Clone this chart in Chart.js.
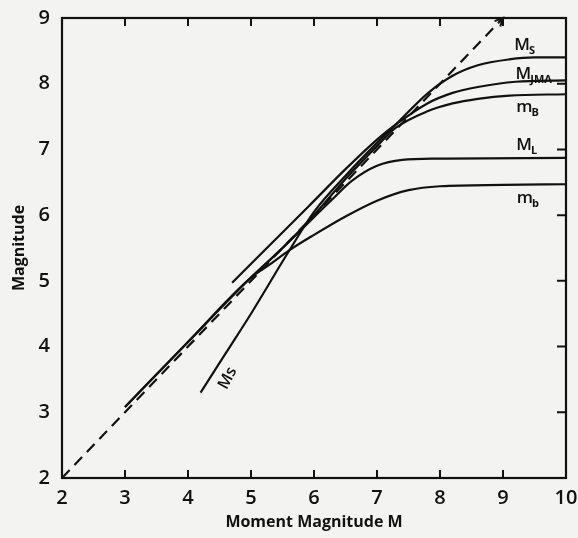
<!DOCTYPE html>
<html>
<head>
<meta charset="utf-8">
<script src="https://cdn.jsdelivr.net/npm/chart.js@4"></script>
<style>
  html, body { margin: 0; padding: 0; background: #f3f3f1; }
  #wrap { width: 578px; height: 538px; }
</style>
</head>
<body>
<div id="wrap"><canvas id="magChart" width="578" height="538"></canvas></div>
<script>
// --- ค่าที่อ่านจากรูป ---
const xTicks = [2, 3, 4, 5, 6, 7, 8, 9, 10];
const yTicks = [2, 3, 4, 5, 6, 7, 8, 9];

const refX = [2, 9];
const refY = [2, 9];

const msX = [4.2, 4.6, 5.0, 5.6, 6.0, 6.5, 7.0, 7.3, 7.8, 8.2, 8.6, 9.1, 9.5, 10];
const msY = [3.3, 3.9, 4.5, 5.45, 6.05, 6.6, 7.1, 7.38, 7.85, 8.12, 8.28, 8.37, 8.4, 8.4];

const jmaX = [4.7, 5.2, 5.9, 6.5, 7.0, 7.3, 7.8, 8.2, 8.6, 9.2, 10];
const jmaY = [4.97, 5.45, 6.12, 6.7, 7.15, 7.38, 7.7, 7.86, 7.95, 8.03, 8.05];

const mBX = [3.0, 4.0, 5.0, 5.5, 6.0, 6.5, 7.0, 7.3, 7.8, 8.2, 8.6, 9.1, 10];
const mBY = [3.08, 4.07, 5.05, 5.5, 6.0, 6.55, 7.05, 7.33, 7.58, 7.7, 7.77, 7.82, 7.84];

const mlX = [5.0, 5.5, 6.0, 6.3, 6.6, 7.0, 7.4, 8.0, 10];
const mlY = [5.05, 5.5, 5.97, 6.25, 6.52, 6.75, 6.84, 6.86, 6.87];

const mbX = [3.0, 4.0, 5.0, 5.3, 5.6, 6.0, 6.5, 7.0, 7.5, 8.0, 9.0, 10];
const mbY = [3.08, 4.07, 5.05, 5.25, 5.46, 5.7, 5.98, 6.22, 6.38, 6.44, 6.46, 6.47];

// ป้ายชื่อเส้น: [ตัวหลัก, ตัวห้อย, x, y]
const curveLabels = [
  ['M', 'S', 9.18, 8.51],
  ['M', 'JMA', 9.2, 8.07],
  ['m', 'B', 9.21, 7.57],
  ['M', 'L', 9.21, 6.99],
  ['m', 'b', 9.22, 6.19]
];
const msTag = ['Ms', 4.63, 3.52];

const INK = '#111';
const FONT = "'Open Sans', 'DejaVu Sans', sans-serif";

function toPoints(xs, ys) {
  return xs.map((x, i) => ({ x: x, y: ys[i] }));
}

function lineSet(label, xs, ys, dash) {
  return {
    label: label,
    data: toPoints(xs, ys),
    borderColor: INK,
    borderWidth: 2.2,
    borderDash: dash || [],
    pointRadius: 0,
    fill: false,
    cubicInterpolationMode: 'monotone'
  };
}

// ----------------------------------------------------
// วาดกรอบ ขีดด้านใน ป้ายชื่อเส้น และหัวลูกศร
// ----------------------------------------------------
const decorPlugin = {
  id: 'decor',
  afterDatasetsDraw(chart) {
    const { ctx, chartArea: a, scales: { x, y } } = chart;
    ctx.save();
    ctx.strokeStyle = INK;
    ctx.lineWidth = 2.2;
    ctx.strokeRect(a.left, a.top, a.right - a.left, a.bottom - a.top);

    ctx.lineWidth = 2;
    ctx.beginPath();
    xTicks.forEach(v => {
      if (v === xTicks[0] || v === xTicks[xTicks.length - 1]) return;
      const px = x.getPixelForValue(v);
      ctx.moveTo(px, a.bottom); ctx.lineTo(px, a.bottom - 8);
      ctx.moveTo(px, a.top); ctx.lineTo(px, a.top + 8);
    });
    yTicks.forEach(v => {
      if (v === yTicks[0] || v === yTicks[yTicks.length - 1]) return;
      const py = y.getPixelForValue(v);
      ctx.moveTo(a.right, py); ctx.lineTo(a.right - 9, py);
    });
    ctx.stroke();

    // หัวลูกศรของเส้นประ
    const ex = x.getPixelForValue(refX[1]), ey = y.getPixelForValue(refY[1]);
    const sx = x.getPixelForValue(refX[0]), sy = y.getPixelForValue(refY[0]);
    const ang = Math.atan2(ey - sy, ex - sx);
    ctx.beginPath();
    ctx.moveTo(ex - 9 * Math.cos(ang - 0.45), ey - 9 * Math.sin(ang - 0.45));
    ctx.lineTo(ex, ey);
    ctx.lineTo(ex - 9 * Math.cos(ang + 0.45), ey - 9 * Math.sin(ang + 0.45));
    ctx.stroke();

    // ป้ายชื่อเส้น
    ctx.fillStyle = INK;
    ctx.textBaseline = 'alphabetic';
    ctx.textAlign = 'left';
    curveLabels.forEach(([main, sub, vx, vy]) => {
      const px = x.getPixelForValue(vx), py = y.getPixelForValue(vy);
      ctx.font = '600 17px ' + FONT;
      ctx.fillText(main, px, py);
      const w = ctx.measureText(main).width;
      ctx.font = '700 11px ' + FONT;
      ctx.fillText(sub, px + w - 1, py + 4);
    });

    ctx.translate(x.getPixelForValue(msTag[1]), y.getPixelForValue(msTag[2]));
    ctx.rotate(-Math.PI / 2.9);
    ctx.textAlign = 'center';
    ctx.textBaseline = 'middle';
    ctx.font = '600 16px ' + FONT;
    ctx.fillText(msTag[0], 0, 0);
    ctx.restore();
  }
};

function initChart() {
  const ctx = document.getElementById('magChart').getContext('2d');
  new Chart(ctx, {
    type: 'line',
    data: {
      datasets: [
        lineSet('Mw', refX, refY, [11, 7]),
        lineSet('Ms', msX, msY),
        lineSet('MJMA', jmaX, jmaY),
        lineSet('mB', mBX, mBY),
        lineSet('ML', mlX, mlY),
        lineSet('mb', mbX, mbY)
      ]
    },
    options: {
      responsive: false,
      animation: false,
      layout: { padding: { left: 0, right: 12, top: 18, bottom: 0 } },
      plugins: { legend: { display: false }, tooltip: { enabled: false } },
      scales: {
        x: {
          type: 'linear', min: 2, max: 10,
          afterBuildTicks: s => { s.ticks = xTicks.map(v => ({ value: v })); },
          afterFit: s => { s.height = 60; },
          grid: { display: false },
          border: { display: false },
          ticks: { color: INK, padding: 0, maxRotation: 0, font: { family: FONT, size: 20, weight: '600' } },
          title: { display: true, text: 'Moment Magnitude M', color: INK, padding: { top: 4, bottom: 6 },
                   font: { family: FONT, size: 16, weight: '700' } }
        },
        y: {
          min: 2, max: 9,
          afterBuildTicks: s => { s.ticks = yTicks.map(v => ({ value: v })); },
          afterFit: s => { s.width = 62; },
          grid: { display: false },
          border: { display: false },
          ticks: { color: INK, padding: 4, font: { family: FONT, size: 20, weight: '600' } },
          title: { display: true, text: 'Magnitude', color: INK, padding: { top: 10, bottom: 0 },
                   font: { family: FONT, size: 16, weight: '700' } }
        }
      }
    },
    plugins: [decorPlugin]
  });
}

initChart();
</script>
</body>
</html>
